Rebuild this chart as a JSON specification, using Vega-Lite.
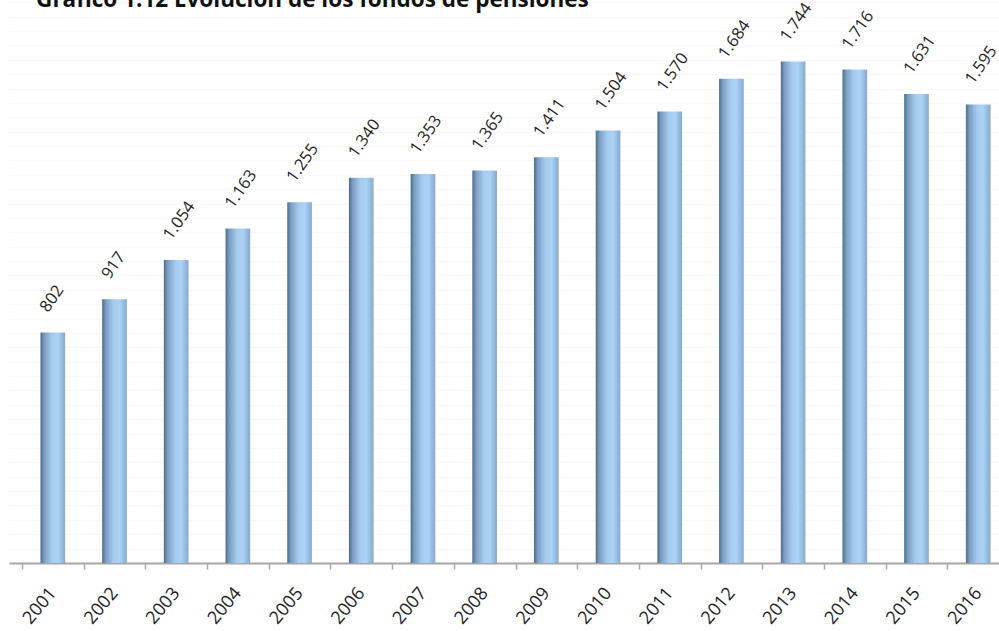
{
  "$schema": "https://vega.github.io/schema/vega-lite/v6.json",
  "width": 1013,
  "height": 563,
  "autosize": "none",
  "padding": {"left": 9, "top": 0, "right": 0, "bottom": 68},
  "title": {
    "text": "Gráfico 1.12 Evolución de los fondos de pensiones",
    "anchor": "start",
    "font": "Open Sans",
    "fontSize": 22.5,
    "fontWeight": "bold",
    "color": "#111111",
    "offset": 0,
    "dx": 34,
    "dy": 11
  },
  "config": {
    "view": {"stroke": null},
    "locale": {
      "number": {"decimal": ",", "thousands": ".", "grouping": [3], "currency": ["", " €"]}
    }
  },
  "data": {
    "values": [
      {"year": "2001", "fondos": 802},
      {"year": "2002", "fondos": 917},
      {"year": "2003", "fondos": 1054},
      {"year": "2004", "fondos": 1163},
      {"year": "2005", "fondos": 1255},
      {"year": "2006", "fondos": 1340},
      {"year": "2007", "fondos": 1353},
      {"year": "2008", "fondos": 1365},
      {"year": "2009", "fondos": 1411},
      {"year": "2010", "fondos": 1504},
      {"year": "2011", "fondos": 1570},
      {"year": "2012", "fondos": 1684},
      {"year": "2013", "fondos": 1744},
      {"year": "2014", "fondos": 1716},
      {"year": "2015", "fondos": 1631},
      {"year": "2016", "fondos": 1595}
    ]
  },
  "encoding": {
    "x": {
      "field": "year",
      "type": "ordinal",
      "scale": {"paddingInner": 0, "paddingOuter": 0.21},
      "axis": {
        "title": null,
        "tickBand": "extent",
        "tickSize": 6,
        "tickColor": "#a6a6a6",
        "tickWidth": 1.5,
        "domainColor": "#a6a6a6",
        "domainWidth": 2,
        "labelAngle": -50,
        "labelAlign": "right",
        "labelBaseline": "middle",
        "labelPadding": 21,
        "labelFont": "Open Sans",
        "labelFontSize": 18,
        "labelColor": "#222222"
      }
    },
    "y": {
      "field": "fondos",
      "type": "quantitative",
      "scale": {"domain": [0, 1958], "nice": false},
      "axis": {
        "title": null,
        "domain": false,
        "ticks": false,
        "labels": false,
        "grid": true,
        "gridColor": "#f8f8f8",
        "values": [50, 100, 150, 200, 250, 300, 350, 400, 450, 500, 550, 600, 650, 700, 750, 800, 850, 900, 950, 1000, 1050, 1100, 1150, 1200, 1250, 1300, 1350, 1400, 1450, 1500, 1550, 1600, 1650, 1700, 1750, 1800, 1850, 1900, 1950]
      }
    }
  },
  "layer": [
    {
      "mark": {
        "type": "bar",
        "width": {"band": 0.4},
        "color": {
          "gradient": "linear",
          "x1": 0, "y1": 0, "x2": 1, "y2": 0,
          "stops": [
            {"offset": 0, "color": "#4d6c8c"},
            {"offset": 0.15, "color": "#7b9dc0"},
            {"offset": 0.45, "color": "#a4caee"},
            {"offset": 0.7, "color": "#acd3f6"},
            {"offset": 1, "color": "#86a9cc"}
          ]
        }
      }
    },
    {
      "mark": {
        "type": "text",
        "angle": -55,
        "align": "left",
        "baseline": "bottom",
        "dx": 13,
        "dy": -12,
        "font": "Open Sans",
        "fontSize": 16.5,
        "color": "#222222"
      },
      "encoding": {
        "text": {"field": "fondos", "type": "quantitative", "format": ",d"}
      }
    }
  ]
}
